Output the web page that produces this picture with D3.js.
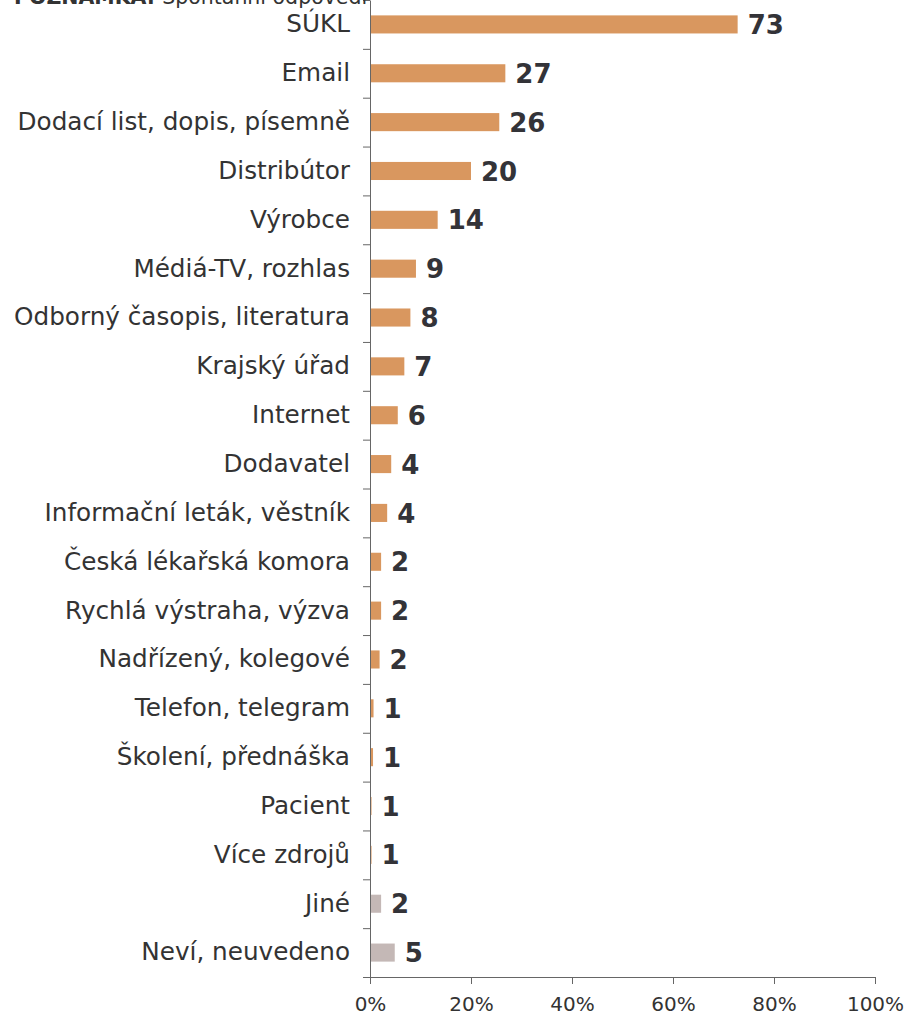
<!DOCTYPE html>
<html><head><meta charset="utf-8">
<script src="https://cdn.jsdelivr.net/npm/d3@7"></script>
<style>
body{margin:0;background:#fff;}
svg{display:block;font-family:"DejaVu Sans",Verdana,sans-serif;}
</style></head>
<body>
<svg id="c" width="906" height="1017"></svg>
<script>
const categories = ["SÚKL","Email","Dodací list, dopis, písemně","Distribútor","Výrobce","Médiá-TV, rozhlas","Odborný časopis, literatura","Krajský úřad","Internet","Dodavatel","Informační leták, věstník","Česká lékařská komora","Rychlá výstraha, výzva","Nadřízený, kolegové","Telefon, telegram","Školení, přednáška","Pacient","Více zdrojů","Jiné","Neví, neuvedeno"];
const values = [72.8,26.8,25.6,20.0,13.4,9.1,8.0,6.8,5.5,4.2,3.4,2.2,2.2,1.9,0.7,0.6,0.3,0.3,2.2,4.9];
const valueLabels = ["73","27","26","20","14","9","8","7","6","4","4","2","2","2","1","1","1","1","2","5"];
const groups = ["main","main","main","main","main","main","main","main","main","main","main","main","main","main","main","main","main","main","other","other"];
const xTicks = [0,20,40,60,80,100];

const colors = {main:"#D9975F", other:"#C4B8B6"};
const margin = {left:370, top:0};
const W = 505, H = 977;
const svg = d3.select("#c");
const g = svg.append("g").attr("transform",`translate(${margin.left},${margin.top})`);

const x = d3.scaleLinear().domain([0,100]).range([0,W]);
const y = d3.scaleBand().domain(categories).range([0,H]).paddingInner(0.63).paddingOuter(0.315);
const yb = d3.scaleLinear().domain([0,categories.length]).range([0,H]);

// bars
g.selectAll("rect.bar").data(categories).join("rect")
  .attr("class","bar")
  .attr("x",x(0))
  .attr("y",d=>y(d))
  .attr("height",y.bandwidth())
  .attr("width",(d,i)=>x(values[i])-x(0))
  .attr("fill",(d,i)=>colors[groups[i]]);

// value labels
g.selectAll("text.val").data(categories).join("text")
  .attr("class","val")
  .attr("x",(d,i)=>x(values[i])+10)
  .attr("y",d=>y(d)+y.bandwidth()/2)
  .attr("dy","0.37em")
  .attr("font-size",26)
  .attr("font-weight","bold")
  .attr("fill","#333338")
  .text((d,i)=>valueLabels[i]);

// y axis: labels
const yAxis = g.append("g").call(d3.axisLeft(y).tickSize(0).tickPadding(20));
yAxis.select(".domain").remove();
yAxis.selectAll("text").attr("font-size",24.7).attr("fill","#333").attr("font-family","DejaVu Sans, Verdana, sans-serif");

// y axis: line and boundary ticks
const yTickAxis = g.append("g").call(d3.axisLeft(yb).tickValues(d3.range(categories.length+1)).tickSize(7).tickSizeOuter(0).tickFormat(""));
yTickAxis.select(".domain").attr("stroke","#666");
yTickAxis.selectAll("line").attr("stroke","#666");

// x axis
const xAxis = g.append("g").attr("transform",`translate(0,${H})`)
  .call(d3.axisBottom(x).tickValues(xTicks).tickSize(7).tickSizeOuter(0).tickPadding(13).tickFormat(d=>d+"%"));
xAxis.select(".domain").attr("stroke","#666");
xAxis.selectAll("line").attr("stroke","#666");
xAxis.selectAll("text").attr("font-size",20).attr("fill","#333").attr("font-family","DejaVu Sans, Verdana, sans-serif");

// note (cut off at the top edge, as in the reference)
const note = svg.append("text").attr("x",14).attr("y",4).attr("font-size",20.5).attr("fill","#333");
note.append("tspan").attr("font-weight","bold").text("POZNÁMKA: ");
note.append("tspan").text("Spontánní odpovědi");
</script>
</body></html>
